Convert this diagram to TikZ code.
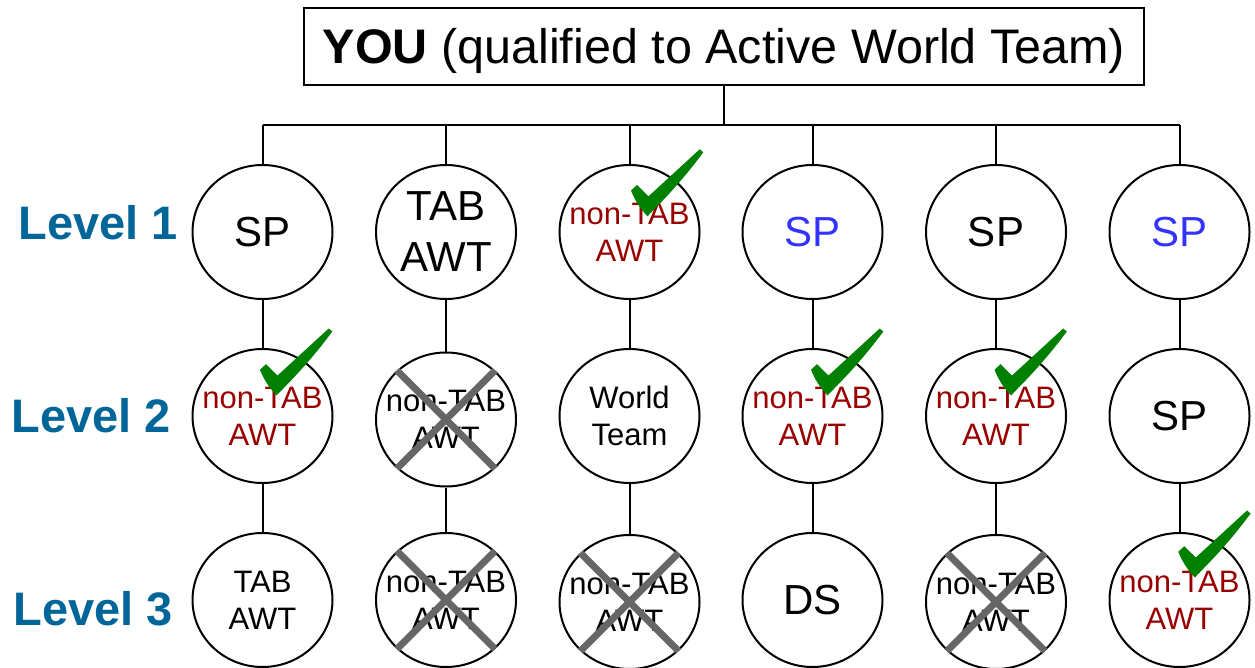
\documentclass[tikz,border=0pt]{standalone}
\usepackage{fontspec}
\setmainfont{Liberation Sans}
\usetikzlibrary{shapes.geometric,calc}
\definecolor{lvlblue}{RGB}{0,102,153}
\definecolor{awtred}{RGB}{153,0,0}
\definecolor{spblue}{RGB}{51,51,255}
\definecolor{chkgreen}{RGB}{0,128,0}
\definecolor{xgray}{RGB}{102,102,102}
\newcommand{\greenchk}[2]{\begin{scope}[shift={($(#1)+(#2)$)}]
  \fill[chkgreen] (0,0) -- (6,-5.5) -- (17.5,5.8) -- (68.7,-41.2) -- (72.3,-38.2)
    .. controls (57.5,-18.2) and (41.5,0.4) .. (24,18) -- (16.5,25.8)
    .. controls (9,17.8) and (3.6,9.4) .. (0,0) -- cycle;
\end{scope}}
\begin{document}
\begin{tikzpicture}[x=1pt,y=-1pt,
  mem/.style={draw=black, line width=2pt, ellipse, minimum width=140pt, minimum height=134pt, inner sep=0pt, fill=white},
  bigtxt/.style={font=\fontsize{42}{51}\selectfont, align=center, inner sep=0pt},
  smalltxt/.style={font=\fontsize{31}{37}\selectfont, align=center, inner sep=0pt},
  lvl/.style={font=\fontsize{47}{55}\selectfont\bfseries, text=lvlblue, anchor=base west, inner sep=0pt},
  link/.style={line width=2pt},
  trunk/.style={line width=2.5pt},
  xmark/.style={draw=xgray, line width=7pt},
]
\useasboundingbox (0,0) rectangle (1255,668);

% top box
\node[draw=black, line width=2.5pt, minimum width=840pt, minimum height=77pt, inner sep=0pt,
      text height=34.5pt, text depth=0pt, font=\fontsize{48.5}{55}\selectfont]
  (you) at (724,46.5) {\textbf{YOU} (qualified to Active World Team)};

% bus coordinates
\coordinate (bm) at (724,125);
\coordinate (b1) at (262.5,125);
\coordinate (b2) at (446,125);
\coordinate (b3) at (629.5,125);
\coordinate (b4) at (812.5,125);
\coordinate (b5) at (996,125);
\coordinate (b6) at (1179.5,125);

% circles
\node[mem] (c11) at (262.5,232) {};
\node[mem] (c12) at (446,232) {};
\node[mem] (c13) at (629.5,232) {};
\node[mem] (c14) at (812.5,232) {};
\node[mem] (c15) at (996,232) {};
\node[mem] (c16) at (1179.5,232) {};

\node[mem] (c21) at (262.5,416) {};
\node[mem] (c22) at (446,419.5) {};
\node[mem] (c23) at (629.5,416) {};
\node[mem] (c24) at (812.5,416) {};
\node[mem] (c25) at (996,416) {};
\node[mem] (c26) at (1179.5,416) {};

\node[mem] (c31) at (262.5,600) {};
\node[mem] (c32) at (446,600) {};
\node[mem] (c33) at (629.5,602) {};
\node[mem] (c34) at (812.5,600) {};
\node[mem] (c35) at (996,602) {};
\node[mem] (c36) at (1179.5,600) {};

% connectors
\draw[trunk] (you.south) -- (bm);
\draw[link] (b1) -- (b6);
\foreach \i in {1,...,6}{
  \draw[link] (b\i) -- (c1\i);
  \draw[link] (c1\i) -- (c2\i);
  \draw[link] (c2\i) -- (c3\i);
}

% texts
\node[bigtxt] (t11) at (c11) {SP};
\node[bigtxt] (t12) at (c12) {TAB\\AWT};
\node[smalltxt, text=awtred] (t13) at (c13) {non-TAB\\AWT};
\node[bigtxt, text=spblue] (t14) at (c14) {SP};
\node[bigtxt] (t15) at (c15) {SP};
\node[bigtxt, text=spblue] (t16) at (c16) {SP};

\node[smalltxt, text=awtred] (t21) at (c21) {non-TAB\\AWT};
\node[smalltxt] (t22) at (c22) {non-TAB\\AWT};
\node[smalltxt] (t23) at (c23) {World\\Team};
\node[smalltxt, text=awtred] (t24) at (c24) {non-TAB\\AWT};
\node[smalltxt, text=awtred] (t25) at (c25) {non-TAB\\AWT};
\node[bigtxt] (t26) at (c26) {SP};

\node[smalltxt] (t31) at (c31) {TAB\\AWT};
\node[smalltxt] (t32) at (c32) {non-TAB\\AWT};
\node[smalltxt] (t33) at (c33) {non-TAB\\AWT};
\node[bigtxt] (t34) at (c34) {DS};
\node[smalltxt] (t35) at (c35) {non-TAB\\AWT};
\node[smalltxt, text=awtred] (t36) at (c36) {non-TAB\\AWT};

% crosses
\foreach \n in {c22,c32,c33,c35}{
  \draw[xmark] (\n.135) -- (\n.-45);
  \draw[xmark] (\n.45) -- (\n.-135);
}

% checks
\greenchk{c13}{1.5,-41.5}
\greenchk{c21}{-2.5,-46.3}
\greenchk{c24}{-1.5,-46.3}
\greenchk{c25}{-1.5,-46.3}
\greenchk{c36}{-1.2,-48.3}

% level labels
\node[lvl] (l1) at (18.6,240) {Level 1};
\node[lvl] (l2) at (11.6,432) {Level 2};
\node[lvl] (l3) at (13.6,625) {Level 3};
\end{tikzpicture}
\end{document}
